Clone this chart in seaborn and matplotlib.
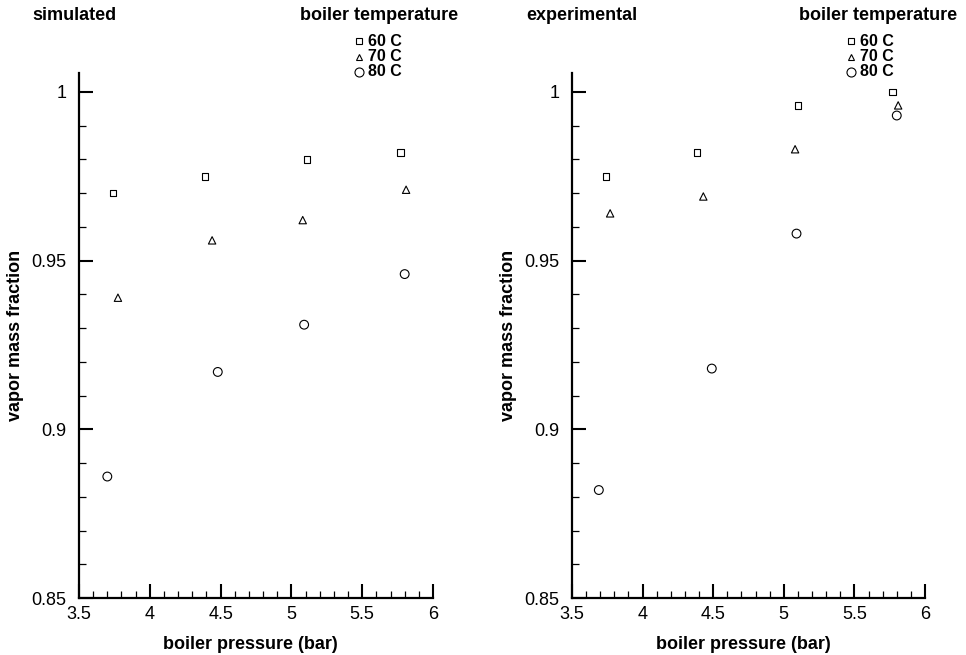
import matplotlib
matplotlib.use("Agg")
import matplotlib.pyplot as plt
from matplotlib.lines import Line2D
from matplotlib.ticker import MultipleLocator, FixedLocator
import seaborn as sns
import pandas as pd

# ---- data ----
temps = ["60 C", "70 C", "80 C"]
sim_x_60 = [3.74, 4.39, 5.11, 5.77]
sim_y_60 = [0.970, 0.975, 0.980, 0.982]
sim_x_70 = [3.775, 4.44, 5.08, 5.81]
sim_y_70 = [0.939, 0.956, 0.962, 0.971]
sim_x_80 = [3.70, 4.48, 5.09, 5.80]
sim_y_80 = [0.886, 0.917, 0.931, 0.946]

exp_x_60 = [3.74, 4.385, 5.10, 5.77]
exp_y_60 = [0.975, 0.982, 0.996, 1.000]
exp_x_70 = [3.77, 4.43, 5.08, 5.81]
exp_y_70 = [0.964, 0.969, 0.983, 0.996]
exp_x_80 = [3.69, 4.49, 5.09, 5.80]
exp_y_80 = [0.882, 0.918, 0.958, 0.993]

x_ticks = [3.5, 4, 4.5, 5, 5.5, 6]
x_tick_labels = ["3.5", "4", "4.5", "5", "5.5", "6"]
y_ticks = [0.85, 0.9, 0.95, 1.0]
y_tick_labels = ["0.85", "0.9", "0.95", "1"]

def frame(xs, ys):
    rows = []
    for t, xv, yv in zip(temps, xs, ys):
        for a, b in zip(xv, yv):
            rows.append({"pressure": a, "fraction": b, "temp": t})
    return pd.DataFrame(rows)

sim_df = frame([sim_x_60, sim_x_70, sim_x_80], [sim_y_60, sim_y_70, sim_y_80])
exp_df = frame([exp_x_60, exp_x_70, exp_x_80], [exp_y_60, exp_y_70, exp_y_80])

sns.set_theme(style="white")
plt.rcParams["font.family"] = ["Liberation Sans", "DejaVu Sans"]
plt.rcParams["text.color"] = "black"
plt.rcParams["axes.labelcolor"] = "black"

W, H = 966, 655
fig = plt.figure(figsize=(W / 100, H / 100), dpi=100)

def px_box(x0, x1, ytop, ybot):
    return [x0 / W, 1 - ybot / H, (x1 - x0) / W, (ybot - ytop) / H]

ax1 = fig.add_axes(px_box(79, 433, 73, 598))
ax2 = fig.add_axes(px_box(572, 925, 73, 598))

markers = {"60 C": "s", "70 C": "^", "80 C": "o"}
sizes = {"60 C": 22, "70 C": 28, "80 C": 40}

for ax, df in [(ax1, sim_df), (ax2, exp_df)]:
    for t in temps:
        sub = df[df["temp"] == t]
        sns.scatterplot(data=sub, x="pressure", y="fraction", marker=markers[t],
                        s=sizes[t], facecolor="none", edgecolor="black",
                        linewidth=0.8, ax=ax, legend=False)
    for coll in ax.collections:
        coll.set_facecolor("none")
        coll.set_edgecolor("black")
    ax.set_xlim(3.5, 6)
    ax.set_ylim(0.85, 1.0056)
    ax.xaxis.set_major_locator(FixedLocator(x_ticks))
    ax.set_xticklabels(x_tick_labels)
    ax.yaxis.set_major_locator(FixedLocator(y_ticks))
    ax.set_yticklabels(y_tick_labels)
    ax.xaxis.set_minor_locator(MultipleLocator(0.1))
    ax.yaxis.set_minor_locator(MultipleLocator(0.01))
    for s in ["top", "right"]:
        ax.spines[s].set_visible(False)
    for s in ["left", "bottom"]:
        ax.spines[s].set_linewidth(1.6)
        ax.spines[s].set_color("black")
    ax.tick_params(which="major", direction="in", length=10, width=1.5,
                   color="black", labelsize=13, labelcolor="black")
    ax.tick_params(which="minor", direction="in", length=5, width=0.9,
                   color="black")
    ax.tick_params(axis="y", which="major", pad=9)
    ax.tick_params(axis="x", which="major", pad=6)
    ax.tick_params(bottom=True, left=True, which="both")
    ax.set_xlabel("boiler pressure (bar)", fontsize=13, fontweight="bold",
                  color="black", labelpad=6)
    ax.xaxis.set_label_coords(0.485, -0.072)
    ax.set_ylabel("vapor mass fraction", fontsize=13, fontweight="bold",
                  color="black", labelpad=5)
    ax.grid(False)
    ax.set_facecolor("white")

def fx(p):
    return p / W

def fy(p):
    return 1 - p / H

fig.text(fx(32), fy(15), "simulated", fontsize=13, fontweight="bold",
         ha="left", va="center", color="black")
fig.text(fx(526), fy(15), "experimental", fontsize=13, fontweight="bold",
         ha="left", va="center", color="black")
fig.text(fx(458), fy(15), "boiler temperature", fontsize=13,
         fontweight="bold", ha="right", va="center", color="black")
fig.text(fx(957), fy(15), "boiler temperature", fontsize=13,
         fontweight="bold", ha="right", va="center", color="black")

leg_ms = {"60 C": 4.5, "70 C": 5, "80 C": 6.5}
for ax, mx in [(ax1, 359), (ax2, 851)]:
    for t, yy in zip(temps, [41, 56.5, 72]):
        fig.add_artist(Line2D([fx(mx)], [fy(yy)], marker=markers[t],
                              markersize=leg_ms[t], markerfacecolor="none",
                              markeredgecolor="black", markeredgewidth=0.8,
                              linestyle="none", transform=fig.transFigure))
        fig.text(fx(mx + 9), fy(yy), t, fontsize=11.5, fontweight="bold",
                 ha="left", va="center", color="black")

fig.savefig("out.png", dpi=100, facecolor="white")
